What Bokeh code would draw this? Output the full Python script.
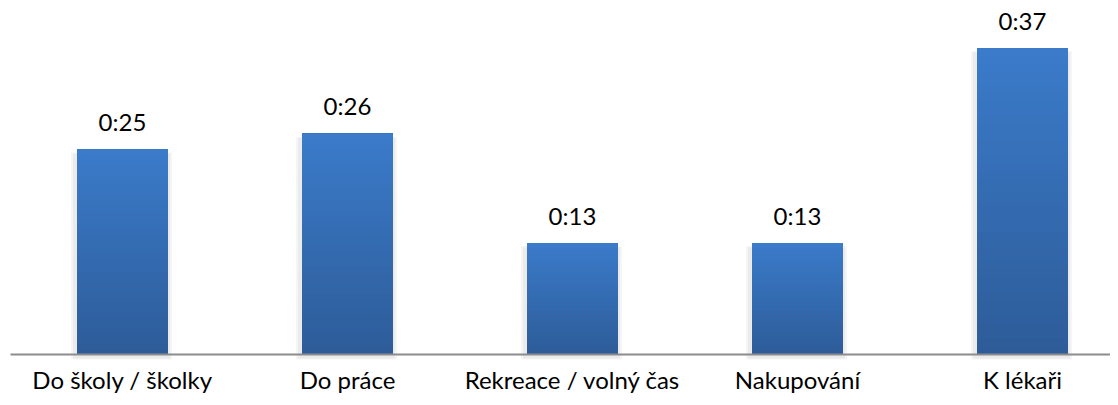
from bokeh.plotting import figure
from bokeh.models import Range1d, ColumnDataSource
from bokeh.core.properties import value
from bokeh.embed import file_html
from bokeh.resources import INLINE

# ---- data ----
categories = ["Do školy / školky", "Do práce", "Rekreace / volný čas", "Nakupování", "K lékaři"]
minutes = [24.7, 26.6, 13.4, 13.4, 36.9]
value_labels = ["0:25", "0:26", "0:13", "0:13", "0:37"]

# ---- layout constants (pixels) ----
W, H = 1110, 397
PX_PER_CAT = 225.0
PX_PER_MIN = 8.3
first_center_px = 122
baseline_px = 354

x_start = -first_center_px / PX_PER_CAT
x_end = x_start + W / PX_PER_CAT
y_end = baseline_px / PX_PER_MIN
y_start = y_end - H / PX_PER_MIN

p = figure(width=W, height=H, x_range=Range1d(x_start, x_end), y_range=Range1d(y_start, y_end),
           output_backend="svg", toolbar_location=None, min_border=0,
           outline_line_color=None, background_fill_color="white", border_fill_color="white")
p.axis.visible = False
p.grid.visible = False

xs = list(range(len(categories)))
bar_w = 91 / PX_PER_CAT
dx = 1 / PX_PER_CAT
dy = 1 / PX_PER_MIN

# soft shadow
p.quad(left=[x - bar_w / 2 - 6 * dx for x in xs], right=[x + bar_w / 2 + 4 * dx for x in xs],
       top=[v - 3 * dy for v in minutes], bottom=[-5 * dy] * len(xs),
       fill_color="#f5f5f5", line_color=None)
p.quad(left=[x - bar_w / 2 - 4 * dx for x in xs], right=[x + bar_w / 2 + 2 * dx for x in xs],
       top=[v - 4 * dy for v in minutes], bottom=[-4 * dy] * len(xs),
       fill_color="#ebebeb", line_color=None)

# gradient bars built from overlapping layers (no seams)
def mix(c1, c2, t):
    a = [int(c1[i:i + 2], 16) for i in (1, 3, 5)]
    b = [int(c2[i:i + 2], 16) for i in (1, 3, 5)]
    return "#%02x%02x%02x" % tuple(round(a[j] + (b[j] - a[j]) * t) for j in range(3))

top_col, bot_col = "#3b7bca", "#2d5c98"
N = 40
L, R, T, B, C = [], [], [], [], []
for k in range(N):
    for x, v in zip(xs, minutes):
        L.append(x - bar_w / 2)
        R.append(x + bar_w / 2)
        B.append(v * k / N)
        T.append(v)
        C.append(mix(bot_col, top_col, (k + 0.5) / N))
p.quad(left=L, right=R, top=T, bottom=B, fill_color=C, line_color=None)

# baseline
p.segment(x0=[x_start + 10 / PX_PER_CAT], x1=[x_end], y0=[0], y1=[0], line_color="#8c8c8c", line_width=2)

# value labels
src = ColumnDataSource(dict(x=xs, y=minutes, y0=[0] * len(xs), t=value_labels, c=categories))
p.text(x="x", y="y", text="t", source=src, text_align="center", text_baseline="alphabetic",
       y_offset=-28, text_font=value("Lato"), text_font_size="24px", text_color="#000000")
# category labels
p.text(x="x", y="y0", text="c", source=src, text_align="center", text_baseline="alphabetic",
       y_offset=25, text_font=value("Lato"), text_font_size="24px", text_color="#000000")

open("out.html", "w").write(file_html(p, INLINE))
